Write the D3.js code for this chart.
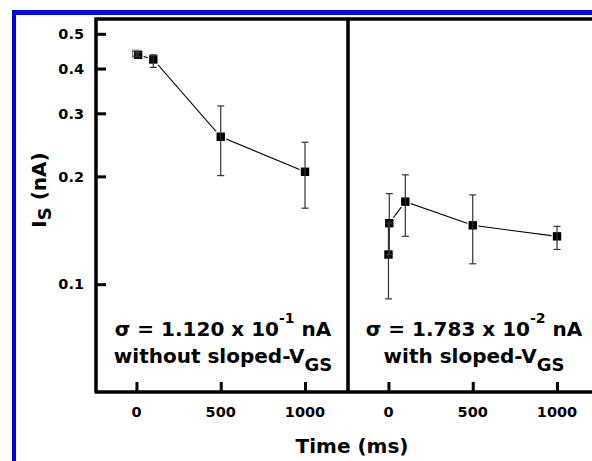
<!DOCTYPE html>
<html>
<head>
<meta charset="utf-8">
<script src="https://cdn.jsdelivr.net/npm/d3@7/dist/d3.min.js"></script>
<style>
html,body{margin:0;padding:0;background:#fff;}
svg{display:block;font-family:"DejaVu Sans",sans-serif;font-weight:bold;}
</style>
</head>
<body>
<svg id="chart" width="592" height="461"></svg>
<script>
// ---- data ----
const xTicks = [0, 500, 1000];
const yTicks = [0.1, 0.2, 0.3, 0.4, 0.5];
const yTickLabels = ["0.1", "0.2", "0.3", "0.4", "0.5"];

const leftTime = [0, 10, 100, 500, 1000];
const leftCurrent = [0.440, 0.437, 0.424, 0.258, 0.206];
const leftErrLow = [0.433, 0.431, 0.403, 0.201, 0.163];
const leftErrHigh = [0.447, 0.443, 0.437, 0.3145, 0.249];

const rightTime = [0, 5, 100, 500, 1000];
const rightCurrent = [0.121, 0.148, 0.170, 0.146, 0.136];
const rightErrLow = [0.091, 0.121, 0.136, 0.114, 0.125];
const rightErrHigh = [0.148, 0.179, 0.202, 0.1775, 0.145];

const leftNote = ["σ = 1.120 x 10", "-1", " nA", "without sloped-V", "GS"];
const rightNote = ["σ = 1.783 x 10", "-2", " nA", "with sloped-V", "GS"];

// ---- layout ----
const svg = d3.select("#chart");
const pTop = 19, pBottom = 392, pLeft = 96, pMid = 348, pRight = 600;

const y = d3.scaleLog().domain([0.05, 0.55]).range([pBottom, pTop]);
const xDomain = [-240, 1255];
const xL = d3.scaleLinear().domain(xDomain).range([pLeft, pMid]);
const xR = d3.scaleLinear().domain(xDomain).range([pMid, pRight]);

// blue border
svg.append("rect").attr("x", 12).attr("y", 10).attr("width", 592).attr("height", 5).attr("fill", "#0000ff");
svg.append("rect").attr("x", 12).attr("y", 10).attr("width", 4).attr("height", 461).attr("fill", "#0000ff");

// y axis (ticks inward)
const yAxis = d3.axisRight(y).tickValues(yTicks).tickSize(10).tickFormat(() => "");
const gy = svg.append("g").attr("transform", `translate(${pLeft},0)`).call(yAxis);
gy.select(".domain").remove();
gy.selectAll(".tick line").attr("stroke", "#000").attr("stroke-width", 3);
yTicks.forEach((v, i) => {
  svg.append("text").attr("x", 84).attr("y", y(v)).attr("dy", "0.36em")
    .attr("text-anchor", "end").attr("font-size", 14.5).text(yTickLabels[i]);
});

// x axes (ticks inward)
[xL, xR].forEach(sc => {
  const ax = d3.axisTop(sc).tickValues(xTicks).tickSize(10).tickFormat(() => "");
  const g = svg.append("g").attr("transform", `translate(0,${pBottom})`).call(ax);
  g.select(".domain").remove();
  g.selectAll(".tick line").attr("stroke", "#000").attr("stroke-width", 3);
  xTicks.forEach(v => {
    svg.append("text").attr("x", sc(v)).attr("y", 417).attr("text-anchor", "middle")
      .attr("font-size", 14.5).text(v);
  });
});

// frame
svg.append("path")
  .attr("d", `M${pLeft},${pBottom}V${pTop}H${pRight} M${pLeft - 1.5},${pBottom}H${pRight} M${pMid},${pTop}V${pBottom}`)
  .attr("fill", "none").attr("stroke", "#000").attr("stroke-width", 3.5);

// series
function drawSeries(sc, t, c, lo, hi) {
  const pts = t.map((d, i) => ({t: d, c: c[i], lo: lo[i], hi: hi[i]}));
  const line = d3.line().x(d => sc(d.t)).y(d => y(d.c));
  svg.append("path").datum(pts).attr("d", line).attr("fill", "none")
    .attr("stroke", "#000").attr("stroke-width", 1.1);
  svg.selectAll(null).data(pts).enter().append("rect")
    .attr("x", d => sc(d.t) - 4.2).attr("y", d => y(d.c) - 4.2)
    .attr("width", 8.4).attr("height", 8.4)
    .attr("fill", "#000").attr("stroke", "#fff").attr("stroke-width", 2.5)
    .style("paint-order", "stroke");
  const eg = svg.append("g").attr("stroke", "#333").attr("stroke-width", 1.2);
  pts.forEach(d => {
    const x0 = sc(d.t);
    eg.append("line").attr("x1", x0).attr("x2", x0).attr("y1", y(d.lo)).attr("y2", y(d.hi));
    eg.append("line").attr("x1", x0 - 3.5).attr("x2", x0 + 3.5).attr("y1", y(d.lo)).attr("y2", y(d.lo));
    eg.append("line").attr("x1", x0 - 3.5).attr("x2", x0 + 3.5).attr("y1", y(d.hi)).attr("y2", y(d.hi));
  });
}
drawSeries(xL, leftTime, leftCurrent, leftErrLow, leftErrHigh);
drawSeries(xR, rightTime, rightCurrent, rightErrLow, rightErrHigh);

// notes
function note(cx, parts) {
  const t1 = svg.append("text").attr("x", cx).attr("y", 336).attr("text-anchor", "middle").attr("font-size", 20);
  t1.append("tspan").text(parts[0]);
  t1.append("tspan").attr("dy", -13).attr("font-size", 14).text(parts[1]);
  t1.append("tspan").attr("dy", 13).text(parts[2]);
  const t2 = svg.append("text").attr("x", cx).attr("y", 363).attr("text-anchor", "middle").attr("font-size", 20);
  t2.append("tspan").text(parts[3]);
  t2.append("tspan").attr("dy", 8).attr("font-size", 18).text(parts[4]);
}
note(223, leftNote);
note(474, rightNote);

// axis titles
svg.append("text").attr("x", 352).attr("y", 453).attr("text-anchor", "middle")
  .attr("font-size", 20).text("Time (ms)");
const yt = svg.append("text").attr("transform", "translate(46,190) rotate(-90)")
  .attr("text-anchor", "middle").attr("font-size", 20);
yt.append("tspan").text("I");
yt.append("tspan").attr("dy", 5).attr("font-size", 18).text("S");
yt.append("tspan").attr("dy", -5).text(" (nA)");
</script>
</body>
</html>
